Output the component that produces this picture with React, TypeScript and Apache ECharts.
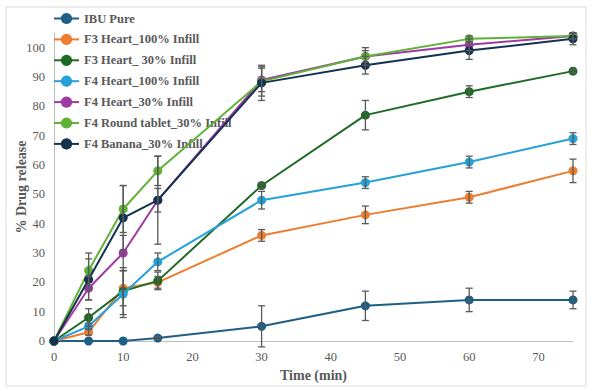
import React, { useEffect, useRef } from "react";
import * as echarts from "echarts";

const times = [0, 5, 10, 15, 30, 45, 60, 75];

const seriesNames = [
  "IBU Pure",
  "F3 Heart_100% Infill",
  "F3 Heart_ 30% Infill",
  "F4 Heart_100% Infill",
  "F4 Heart_30% Infill",
  "F4 Round tablet_30% Infill",
  "F4 Banana_30% Infill",
];

const colors = ["#1f5f85", "#ed7d31", "#1e6b26", "#25a1d8", "#a03aa3", "#5fb236", "#12324f"];

const ibuPure = [0, 0, 0, 1, 5, 12, 14, 14];
const f3Heart100 = [0, 3, 18, 20, 36, 43, 49, 58];
const f3Heart30 = [0, 8, 17, 20.5, 53, 77, 85, 92];
const f4Heart100 = [0, 5, 16, 27, 48, 54, 61, 69];
const f4Heart30 = [0, 18, 30, 48, 89, 97, 101, 104];
const f4Round30 = [0, 24, 45, 58, 88.5, 97, 103, 104];
const f4Banana30 = [0, 21, 42, 48, 88, 94, 99, 103];

const ibuPureErr = [0, 0, 0, 0.5, 7, 5, 4, 3];
const f3Heart100Err = [0, 1, 6, 2, 2, 3, 2, 4];
const f3Heart30Err = [0, 3, 8, 3, 1, 5, 2, 0.5];
const f4Heart100Err = [0, 1, 8, 3, 3, 2, 2, 2];
const f4Heart30Err = [0, 4, 6, 4, 4, 2, 2, 1];
const f4Round30Err = [0, 6, 8, 5, 5, 3, 1, 1];
const f4Banana30Err = [0, 7, 11, 15, 6, 3, 3, 2];

const allValues = [ibuPure, f3Heart100, f3Heart30, f4Heart100, f4Heart30, f4Round30, f4Banana30];
const allErrors = [ibuPureErr, f3Heart100Err, f3Heart30Err, f4Heart100Err, f4Heart30Err, f4Round30Err, f4Banana30Err];

const xTicks = { min: 0, max: 75, interval: 10 };
const yTicks = { min: 0, max: 105, interval: 10 };

const FONT = "Liberation Serif, Times New Roman, Tinos, serif";
const TEXT = "#595959";

export default function App() {
  const ref = useRef<HTMLDivElement>(null);
  useEffect(() => {
    if (!ref.current) return;
    const chart = echarts.init(ref.current, undefined, { renderer: "svg" });
    const lineSeries = seriesNames.map((name, i) => ({
      name,
      type: "line",
      data: times.map((t, j) => [t, allValues[i][j]]),
      symbol: "circle",
      symbolSize: 9,
      lineStyle: { width: 2, color: colors[i] },
      itemStyle: { color: colors[i] },
      z: 2 + i,
    }));
    const errSeries = seriesNames.map((name, i) => ({
      name: name + " err",
      type: "custom",
      data: times.map((t, j) => [t, allValues[i][j], allErrors[i][j]]),
      encode: { x: 0, y: 1 },
      z: 20,
      silent: true,
      renderItem: (params: any, api: any) => {
        const x = api.value(0);
        const y = api.value(1);
        const e = api.value(2);
        if (!e) return null;
        const hi = api.coord([x, y + e]);
        const lo = api.coord([x, y - e]);
        const w = 3.5;
        const st = { stroke: "#595959", lineWidth: 1.3 };
        return {
          type: "group",
          children: [
            { type: "line", shape: { x1: hi[0], y1: hi[1], x2: lo[0], y2: lo[1] }, style: st },
            { type: "line", shape: { x1: hi[0] - w, y1: hi[1], x2: hi[0] + w, y2: hi[1] }, style: st },
            { type: "line", shape: { x1: lo[0] - w, y1: lo[1], x2: lo[0] + w, y2: lo[1] }, style: st },
          ],
        };
      },
    }));
    chart.setOption({
      animation: false,
      backgroundColor: "#ffffff",
      textStyle: { fontFamily: FONT },
      graphic: [
        {
          type: "rect",
          shape: { x: 6, y: 7, width: 580, height: 379 },
          style: { fill: "none", stroke: "#d9d9d9", lineWidth: 1 },
          silent: true,
        },
      ],
      legend: {
        data: seriesNames,
        orient: "vertical",
        left: 53,
        top: 12,
        padding: 0,
        itemWidth: 25,
        itemHeight: 14,
        itemGap: 7.9,
        textStyle: { fontFamily: FONT, fontSize: 12.5, fontWeight: "bold", color: TEXT },
      },
      grid: { left: 54, right: 21, top: 33, bottom: 50, containLabel: false, outerBoundsMode: "none" },
      xAxis: {
        type: "value",
        min: xTicks.min,
        max: xTicks.max,
        interval: xTicks.interval,
        name: "Time (min)",
        nameLocation: "middle",
        nameGap: 27,
        nameTextStyle: { fontFamily: FONT, fontSize: 14, fontWeight: "bold", color: TEXT },
        axisLine: { show: true, lineStyle: { color: "#bfbfbf", width: 1 } },
        axisTick: { show: false },
        splitLine: { show: false },
        axisLabel: { showMaxLabel: false, fontFamily: FONT, fontSize: 12.5, color: TEXT, margin: 9 },
      },
      yAxis: {
        type: "value",
        min: yTicks.min,
        max: yTicks.max,
        interval: yTicks.interval,
        name: "% Drug release",
        nameLocation: "middle",
        nameGap: 26,
        nameMoveOverlap: false,
        nameTextStyle: { fontFamily: FONT, fontSize: 14, fontWeight: "bold", color: TEXT },
        axisLine: { show: true, lineStyle: { color: "#bfbfbf", width: 1 } },
        axisTick: { show: false },
        splitLine: { show: false },
        axisLabel: { showMaxLabel: false, fontFamily: FONT, fontSize: 12.5, color: TEXT, margin: 9 },
      },
      series: [...lineSeries, ...errSeries],
    });
    return () => chart.dispose();
  }, []);
  return <div ref={ref} style={{ width: 594, height: 391, position: "absolute", left: 0, top: 0 }} />;
}
